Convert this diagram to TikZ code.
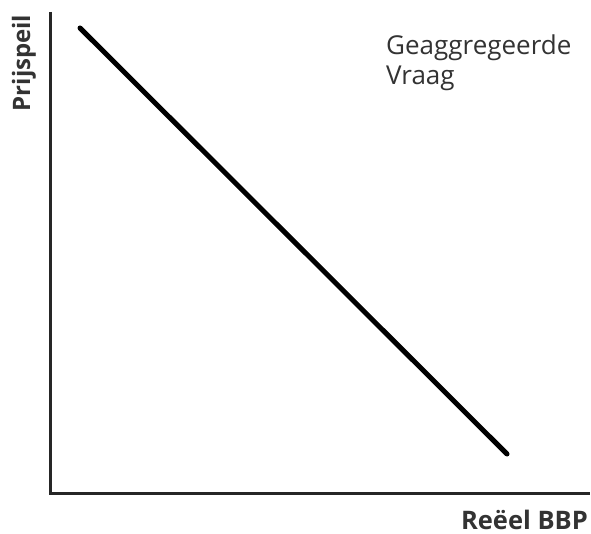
\documentclass[tikz,border=0pt]{standalone}
\usepackage{fontspec}
\setmainfont{Open Sans}
\begin{document}
\begin{tikzpicture}[x=1pt,y=-1pt,
  axis/.style={line width=3pt,draw=black!85},
  curve/.style={line width=5pt,line cap=round,draw=black},
  lab/.style={inner sep=0pt,text=black!80}]
\useasboundingbox[fill=white] (0,0) rectangle (591,534);
\coordinate (ytop) at (50,12);
\coordinate (o) at (50,493);
\coordinate (xend) at (590,493);
\coordinate (p1) at (80,28);
\coordinate (p2) at (507,454);
\draw[axis] (ytop) -- (o) -- (xend);
\draw[curve] (p1) -- (p2);
\node[lab,rotate=90,font=\bfseries\fontsize{24}{28}\selectfont] (ylab) at (24,63) {Prijspeil};
\node[lab,anchor=base east,font=\bfseries\fontsize{25.5}{28}\selectfont] (xlab) at (588,529) {Reëel BBP};
\node[lab,anchor=north west,align=left,font=\fontsize{26}{30}\selectfont] (ad) at (386,35) {Geaggregeerde\\Vraag};
\end{tikzpicture}
\end{document}
